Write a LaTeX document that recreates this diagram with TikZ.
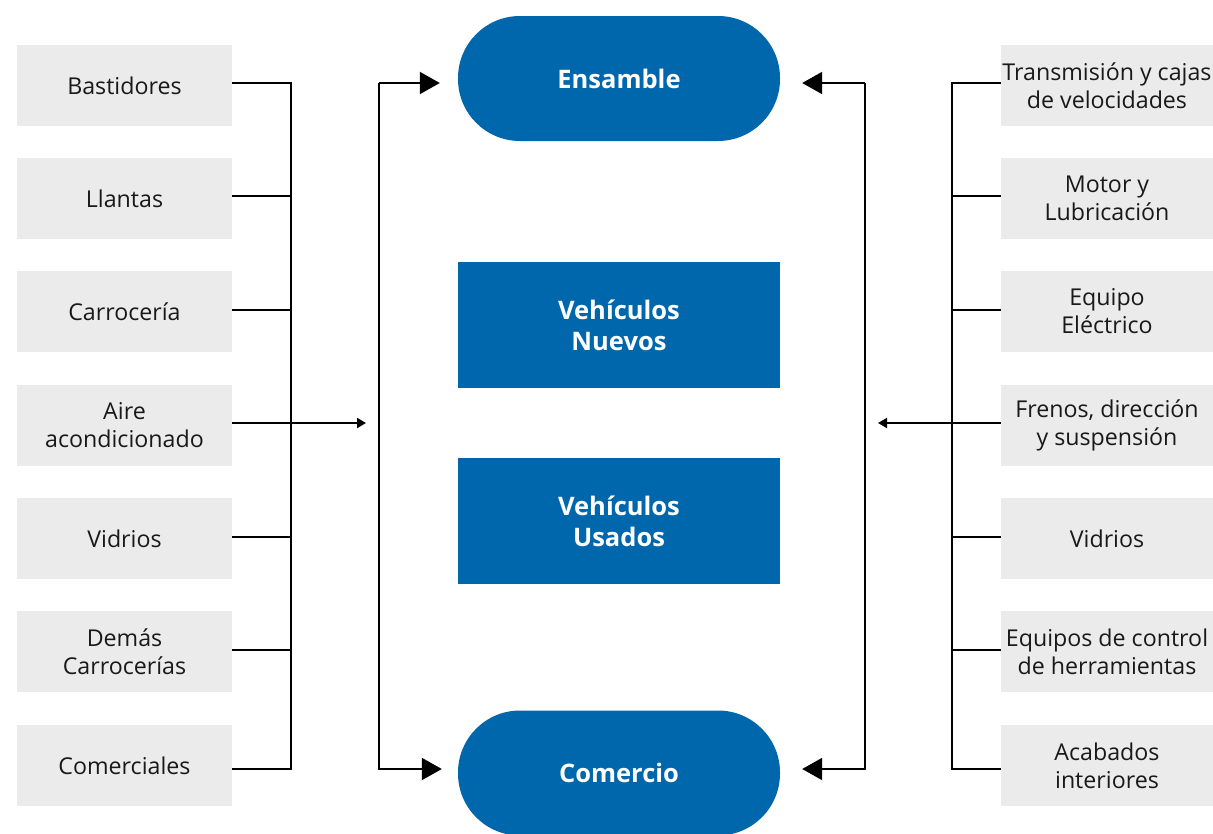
\documentclass[tikz,border=0pt]{standalone}
\usepackage{fontspec}
\setmainfont{Open Sans}
\usetikzlibrary{arrows.meta}
\definecolor{mblue}{HTML}{0067AC}
\definecolor{mgray}{HTML}{EBEBEB}
\begin{document}
\begin{tikzpicture}[x=1pt,y=-1pt,
  item/.style={fill=mgray,draw=none,minimum height=81pt,inner sep=0pt,align=center,
     font=\fontsize{23.2}{28}\selectfont,text=black!90},
  litem/.style={item,minimum width=215pt},
  ritem/.style={item,minimum width=212pt},
  pill/.style={fill=mblue,draw=none,rounded corners=62pt,minimum width=322pt,minimum height=125pt,
     text=white,font=\fontsize{25.5}{31}\selectfont\bfseries,align=center},
  bluebox/.style={fill=mblue,draw=none,minimum width=322pt,minimum height=126pt,
     text=white,font=\fontsize{25.5}{31}\selectfont\bfseries,align=center},
  wire/.style={line width=2pt,black},
  bigarrow/.style={wire,-{Triangle[length=20pt,width=22pt]}},
  smallarrow/.style={wire,-{Triangle[length=9pt,width=10pt]}}]
\useasboundingbox (0,0) rectangle (1213,833);
\clip (0,0) rectangle (1213,833);
% left boxes
\node[litem] (l1) at (124.5,85.5) {Bastidores};
\node[litem] (l2) at (124.5,198.5) {Llantas};
\node[litem] (l3) at (124.5,311.5) {Carrocería};
\node[litem] (l4) at (124.5,425.5) {Aire\\acondicionado};
\node[litem] (l5) at (124.5,538.5) {Vidrios};
\node[litem] (l6) at (124.5,651.5) {Demás\\Carrocerías};
\node[litem] (l7) at (124.5,765.5) {Comerciales};
% right boxes
\node[ritem] (r1) at (1107,85.5) {Transmisión y cajas\\de velocidades};
\node[ritem] (r2) at (1107,198.5) {Motor y\\Lubricación};
\node[ritem] (r3) at (1107,311.5) {Equipo\\Eléctrico};
\node[ritem] (r4) at (1107,425.5) {Frenos, dirección\\y suspensión};
\node[ritem] (r5) at (1107,538.5) {Vidrios};
\node[ritem] (r6) at (1107,651.5) {Equipos de control\\de herramientas};
\node[ritem] (r7) at (1107,765.5) {Acabados\\interiores};
% center
\node[pill] (ens) at (619,78.5) {Ensamble};
\node[bluebox] (vn) at (619,325) {Vehículos\\Nuevos};
\node[bluebox] (vu) at (619,521) {Vehículos\\Usados};
\node[pill] (com) at (619,773) {Comercio};
% coordinates
\coordinate (lbt) at (291,83);
\coordinate (lbb) at (291,769);
\coordinate (lvt) at (379,83);
\coordinate (lvb) at (379,769);
\coordinate (lin) at (366,423);
\coordinate (rbt) at (952,83);
\coordinate (rbb) at (952,769);
\coordinate (rvt) at (865,83);
\coordinate (rvb) at (865,769);
\coordinate (rin) at (878,423);
% left bus
\draw[wire] (l1.east |- lbt) -- (lbt) -- (lbb) -- (l7.east |- lbb);
\foreach \n/\yy in {l2/196,l3/310,l5/537,l6/650}{
  \draw[wire] (\n.east |- 0,\yy) -- (291,\yy);
}
\draw[smallarrow] (l4.east |- lin) -- (lin);
% left vertical with arrows
\draw[bigarrow] (lvt) -- ([xshift=-18pt]ens.west |- lvt);
\draw[bigarrow] (lvt) -- (lvb) -- ([xshift=-16pt]com.west |- lvb);
% right bus
\draw[wire] (r1.west |- rbt) -- (rbt) -- (rbb) -- (r7.west |- rbb);
\foreach \n/\yy in {r2/196,r3/310,r5/537,r6/650}{
  \draw[wire] (\n.west |- 0,\yy) -- (952,\yy);
}
\draw[smallarrow] (r4.west |- rin) -- (rin);
% right vertical with arrows
\draw[bigarrow] (rvt) -- ([xshift=22pt]ens.east |- rvt);
\draw[bigarrow] (rvt) -- (rvb) -- ([xshift=22pt]com.east |- rvb);
\end{tikzpicture}
\end{document}
